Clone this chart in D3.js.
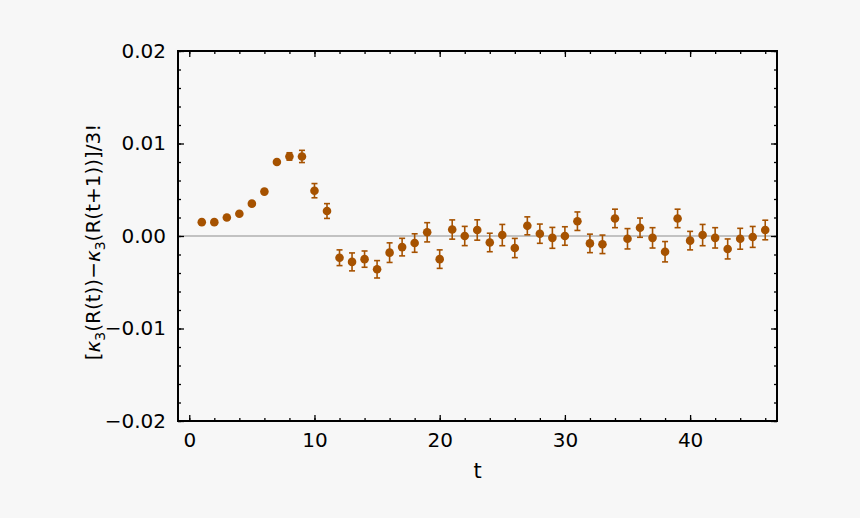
<!DOCTYPE html>
<html><head><meta charset="utf-8">
<script src="https://cdn.jsdelivr.net/npm/d3@7"></script>
<style>
html,body{margin:0;padding:0;background:#f7f7f7;}
svg{display:block;font-family:"DejaVu Sans",sans-serif;}
</style></head><body>
<svg id="c" width="860" height="518"></svg>
<script>
const tValues = [1,2,3,4,5,6,7,8,9,10,11,12,13,14,15,16,17,18,19,20,21,22,23,24,25,26,27,28,29,30,31,32,33,34,35,36,37,38,39,40,41,42,43,44,45,46];
const yValues = [0.0015,0.0015,0.0020,0.0024,0.0035,0.0048,0.0080,0.0086,0.0086,0.0049,0.0027,
 -0.00235,-0.0028,-0.0025,-0.0036,-0.0018,-0.0012,-0.00076,0.0004,-0.0025,0.0007,0.0,0.00065,-0.0007,0.0001,-0.0013,0.0011,0.00025,-0.0002,0.0,
 0.0016,-0.0008,-0.0009,0.0019,-0.0003,0.0009,-0.0002,-0.0017,0.0019,-0.0005,0.0001,-0.0002,-0.0014,-0.0003,-0.0001,0.00065];
const yErrors = [0.0001,0.0001,0.0001,0.0001,0.00012,0.00012,0.0002,0.0004,0.00066,0.00077,0.0008,
 0.00085,0.00097,0.00088,0.00094,0.00106,0.00095,0.001,0.00104,0.001,0.00104,0.00104,0.0011,0.001,0.00115,0.00104,0.00097,0.00104,0.00113,0.001,
 0.001,0.001,0.001,0.001,0.0011,0.00104,0.0011,0.0011,0.001,0.001,0.00115,0.0011,0.00108,0.00113,0.00113,0.00106];
const xTicks = [0,10,20,30,40];
const yTicks = [-0.02,-0.01,0.0,0.01,0.02];
const xLabel = "t";

const svg = d3.select("#c");
const L=178, R=777, T=51, B=421;
const x = d3.scaleLinear().domain([-0.9,46.94]).range([L,R]);
const y = d3.scaleLinear().domain([-0.02,0.02]).range([B,T]);
const color = "#a65200";

// zero line
svg.append("line").attr("x1",L).attr("x2",R).attr("y1",y(0)).attr("y2",y(0))
  .attr("stroke","#b0b0b0").attr("stroke-width",1.6);

const xMinor = d3.range(0,47,2);
const yMinor = d3.range(-0.02,0.02001,0.002);

function styleAxis(g){
  g.select(".domain").remove();
  g.selectAll(".tick line").attr("stroke","#000").attr("stroke-width",1.3);
  g.selectAll(".tick text").attr("font-size",20).attr("fill","#000").attr("font-family","DejaVu Sans");
}
// bottom
svg.append("g").attr("transform",`translate(0,${B})`)
  .call(d3.axisBottom(x).tickValues(xMinor).tickSize(-3).tickFormat("")).call(styleAxis);
svg.append("g").attr("transform",`translate(0,${B})`)
  .call(d3.axisBottom(x).tickValues(xTicks).tickSize(-6).tickPadding(12).tickFormat(d3.format("d"))).call(styleAxis);
// top
svg.append("g").attr("transform",`translate(0,${T})`)
  .call(d3.axisTop(x).tickValues(xMinor).tickSize(-3).tickFormat("")).call(styleAxis);
svg.append("g").attr("transform",`translate(0,${T})`)
  .call(d3.axisTop(x).tickValues(xTicks).tickSize(-6).tickFormat("")).call(styleAxis);
// left
svg.append("g").attr("transform",`translate(${L},0)`)
  .call(d3.axisLeft(y).tickValues(yMinor).tickSize(-3).tickFormat("")).call(styleAxis);
svg.append("g").attr("transform",`translate(${L},0)`)
  .call(d3.axisLeft(y).tickValues(yTicks).tickSize(-6).tickPadding(12).tickFormat(d=>d3.format(".2f")(d).replace("-","\u2212"))).call(styleAxis);
// right
svg.append("g").attr("transform",`translate(${R},0)`)
  .call(d3.axisRight(y).tickValues(yMinor).tickSize(-3).tickFormat("")).call(styleAxis);
svg.append("g").attr("transform",`translate(${R},0)`)
  .call(d3.axisRight(y).tickValues(yTicks).tickSize(-6).tickFormat("")).call(styleAxis);

// frame
svg.append("rect").attr("x",L).attr("y",T).attr("width",R-L).attr("height",B-T)
  .attr("fill","none").attr("stroke","#000").attr("stroke-width",2);

// data
const data = tValues.map((t,i)=>({t, v:yValues[i], e:yErrors[i]}));
const g = svg.append("g");
const eb = g.selectAll("g.eb").data(data).join("g");
eb.append("line").attr("x1",d=>x(d.t)).attr("x2",d=>x(d.t)).attr("y1",d=>y(d.v-d.e)).attr("y2",d=>y(d.v+d.e))
  .attr("stroke",color).attr("stroke-width",1.6);
eb.append("line").attr("x1",d=>x(d.t)-3).attr("x2",d=>x(d.t)+3).attr("y1",d=>y(d.v-d.e)).attr("y2",d=>y(d.v-d.e))
  .attr("stroke",color).attr("stroke-width",1.6);
eb.append("line").attr("x1",d=>x(d.t)-3).attr("x2",d=>x(d.t)+3).attr("y1",d=>y(d.v+d.e)).attr("y2",d=>y(d.v+d.e))
  .attr("stroke",color).attr("stroke-width",1.6);
eb.append("circle").attr("cx",d=>x(d.t)).attr("cy",d=>y(d.v)).attr("r",4.3).attr("fill",color);

// labels
svg.append("text").attr("x",(L+R)/2).attr("y",478).attr("text-anchor","middle")
  .attr("font-size",21).attr("fill","#000").text(xLabel);
const yl = svg.append("text").attr("transform",`translate(100,${(T+B)/2+6}) rotate(-90)`)
  .attr("text-anchor","middle").attr("font-size",20).attr("fill","#000");
yl.append("tspan").text("[");
yl.append("tspan").attr("font-style","italic").text("\u03BA");
yl.append("tspan").attr("font-size",14).attr("dy",5).text("3");
yl.append("tspan").attr("dy",-5).text("(R(t))\u2212");
yl.append("tspan").attr("font-style","italic").text("\u03BA");
yl.append("tspan").attr("font-size",14).attr("dy",5).text("3");
yl.append("tspan").attr("dy",-5).text("(R(t+1))]/3!");
</script>
</body></html>
